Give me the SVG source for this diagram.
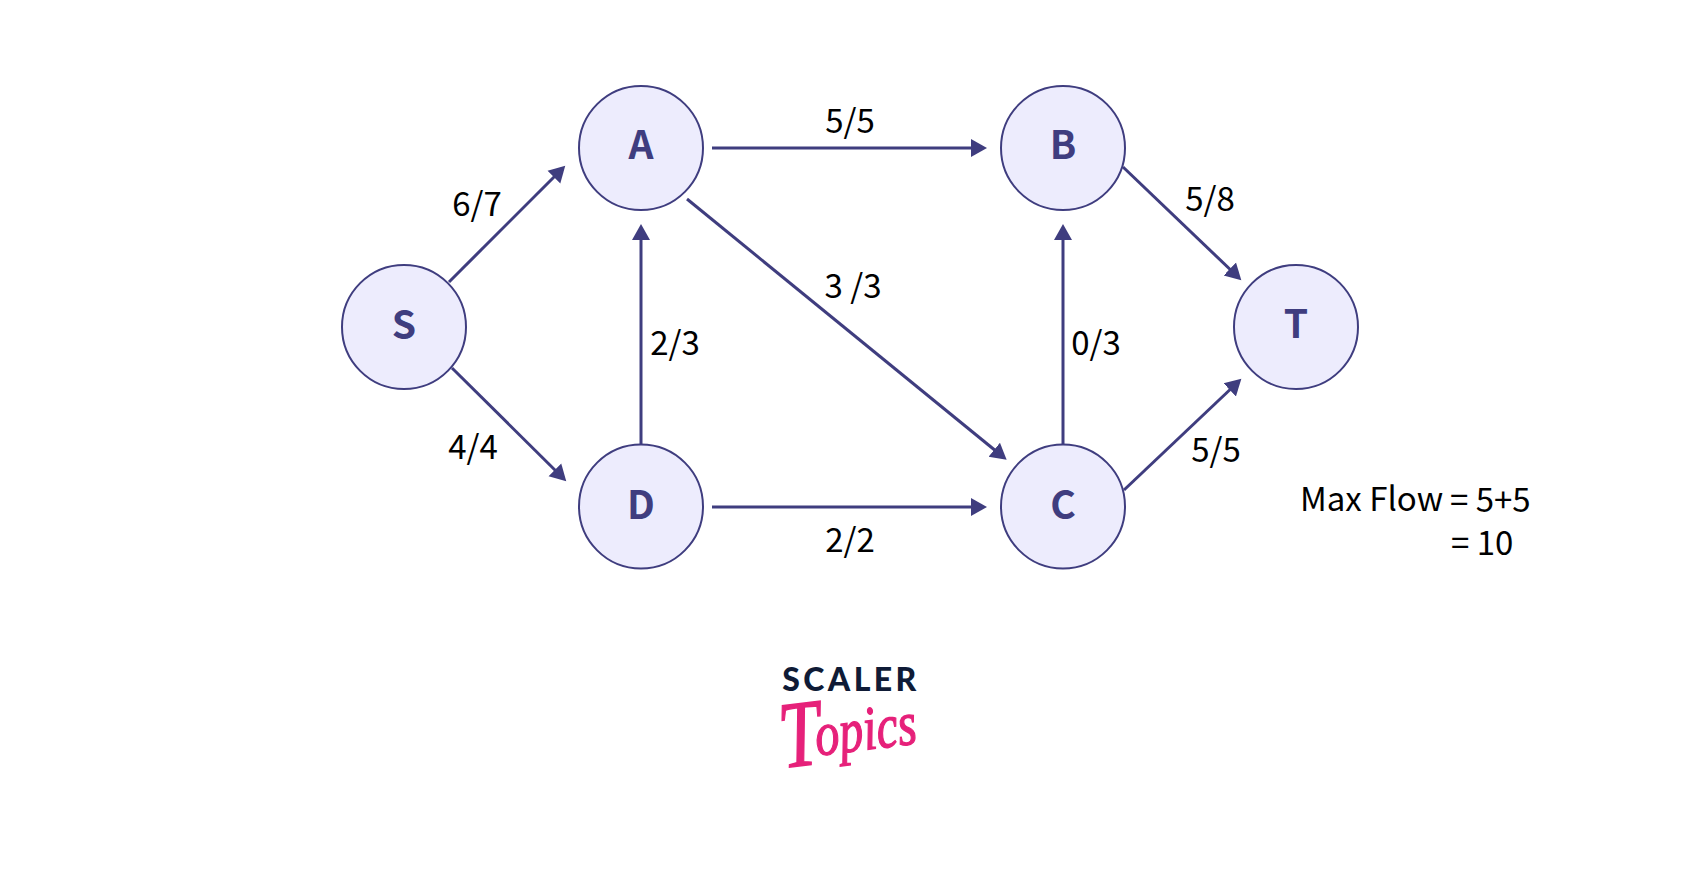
<svg xmlns="http://www.w3.org/2000/svg" width="1701" height="878" viewBox="0 0 1701 878">
<defs>
<style>
.n{fill:#edecfd;stroke:#3f3d7f;stroke-width:2}
.t{font-family:"Noto Sans CJK JP","Noto Sans",sans-serif;font-weight:700;font-size:39px;fill:#3f3d7f;text-anchor:middle}
.l{font-family:"Noto Sans CJK JP","Noto Sans",sans-serif;font-size:33px;fill:#000;text-anchor:middle}
.e{stroke:#3f3d7f;stroke-width:3;fill:none;marker-end:url(#a)}
</style>
<marker id="a" markerUnits="userSpaceOnUse" markerWidth="20" markerHeight="20" viewBox="0 0 20 20" refX="10" refY="10" orient="auto"><path d="M0 1L16 10L0 19Z" fill="#3f3d7f"/></marker>
</defs>
<rect width="1701" height="878" fill="#fff"/>
<g id="connectors">
<path class="e" d="M449 282L561 170"/>
<path class="e" d="M452 368L562 477"/>
<path class="e" d="M712 148L981 148"/>
<path class="e" d="M687 199L1002 456"/>
<path class="e" d="M641 445L641 230"/>
<path class="e" d="M712 507L981 507"/>
<path class="e" d="M1063 445L1063 230"/>
<path class="e" d="M1123 167L1237 276"/>
<path class="e" d="M1124 490L1237 383"/>
</g>
<g id="edge-labels">
<text class="l" x="477" y="216">6/7</text>
<text class="l" x="473" y="459">4/4</text>
<text class="l" x="850" y="133">5/5</text>
<text class="l" x="853" y="298">3 /3</text>
<text class="l" x="675" y="355">2/3</text>
<text class="l" x="850" y="552">2/2</text>
<text class="l" x="1096" y="355">0/3</text>
<text class="l" x="1210" y="211">5/8</text>
<text class="l" x="1216" y="462">5/5</text>
</g>
<g id="node-S"><circle class="n" cx="404" cy="327" r="62"/><text class="t" x="404" y="339">S</text></g>
<g id="node-A"><circle class="n" cx="641" cy="148" r="62"/><text class="t" x="641" y="159">A</text></g>
<g id="node-B"><circle class="n" cx="1063" cy="148" r="62"/><text class="t" x="1063" y="159">B</text></g>
<g id="node-D"><circle class="n" cx="641" cy="506.500" r="62"/><text class="t" x="641" y="519">D</text></g>
<g id="node-C"><circle class="n" cx="1063" cy="506.500" r="62"/><text class="t" x="1063" y="519">C</text></g>
<g id="node-T"><circle class="n" cx="1296" cy="327" r="62"/><text class="t" x="1296" y="338">T</text></g>
<g id="note">
<text class="l" style="text-anchor:start" x="1300" y="511">Max Flow</text>
<text class="l" style="text-anchor:start" x="1450" y="512">= 5+5</text>
<text class="l" style="text-anchor:start" x="1451" y="555">= 10</text>
</g>
<g id="logo">
<text x="851" y="691" text-anchor="middle" font-family="Lato,'Noto Sans',sans-serif" font-weight="900" font-size="32" letter-spacing="3.400" fill="#0f1b36">SCALER</text>
<text transform="translate(782 760) rotate(-7) scale(1.050 1.350)" x="0" y="0" font-family="'Liberation Serif',serif" font-style="italic" font-size="46" fill="#e6217a" stroke="#e6217a" stroke-width="1"><tspan font-size="70" dy="6">T</tspan><tspan dx="-5" dy="-6">opics</tspan></text>
</g>
</svg>
